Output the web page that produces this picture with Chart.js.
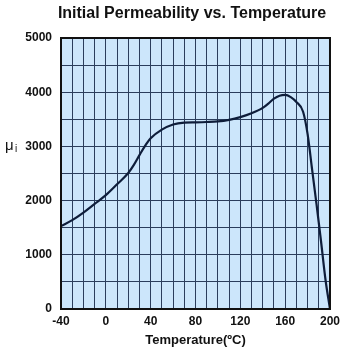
<!DOCTYPE html>
<html>
<head>
<meta charset="utf-8">
<script src="https://cdn.jsdelivr.net/npm/chart.js@4/dist/chart.umd.min.js"></script>
<style>
  html, body { margin:0; padding:0; background:#fff; }
  #wrap { width:345px; height:354px; }
</style>
</head>
<body>
<div id="wrap"><canvas id="chart" width="345" height="354"></canvas></div>
<script>
// temperature (C) and initial permeability
const TEMPS = [-40,-30,-20,-10,0,10,20,25,30,35,40,50,60,70,80,90,100,110,120,130,140,145,150,155,160,165,170,176,180,184,188,192,196,200];
const MU    = [1530,1640,1780,1940,2100,2300,2510,2660,2840,3010,3150,3310,3405,3440,3445,3450,3460,3490,3540,3610,3710,3790,3880,3935,3950,3910,3820,3640,3230,2580,1930,1250,540,0];

const TITLE = 'Initial Permeability vs. Temperature';
const X_TITLE = 'Temperature(\u00baC)';
const FONT = '"Liberation Sans", Arial, Helvetica, sans-serif';

const points = TEMPS.map((t,i)=>({x:t, y:MU[i]}));

// background, frame, title and the mu_i label
const decor = {
  id:'decor',
  beforeDraw(chart){
    const {ctx, chartArea:a} = chart;
    ctx.save();
    ctx.fillStyle = '#cce6fb';
    ctx.fillRect(a.left, a.top, a.right-a.left, a.bottom-a.top);
    ctx.restore();
  },
  afterDatasetsDraw(chart){
    const {ctx, chartArea:a} = chart;
    ctx.save();
    ctx.strokeStyle = '#111';
    ctx.lineWidth = 2;
    ctx.strokeRect(a.left, a.top, a.right-a.left, a.bottom-a.top);
    ctx.restore();
  },
  afterDraw(chart){
    const {ctx} = chart;
    const y3000 = chart.scales.y.getPixelForValue(3000);
    ctx.save();
    ctx.fillStyle = '#111';
    ctx.textBaseline = 'middle';
    ctx.textAlign = 'center';
    ctx.font = 'bold 16px ' + FONT;
    ctx.fillText(TITLE, 192, 14);
    ctx.textAlign = 'left';
    ctx.font = '15px ' + FONT;
    ctx.fillText('\u03bc', 5, y3000 - 1);
    ctx.font = '10px ' + FONT;
    ctx.fillText('i', 15, y3000 + 3);
    ctx.restore();
  }
};

new Chart(document.getElementById('chart'), {
  type:'line',
  data:{datasets:[{
    data: points,
    borderColor:'#0e1d3a',
    borderWidth:2.2,
    pointRadius:0,
    fill:false,
    cubicInterpolationMode:'monotone'
  }]},
  options:{
    responsive:false,
    animation:false,
    layout:{padding:{left:0, right:15, top:38, bottom:0}},
    plugins:{legend:{display:false}, tooltip:{enabled:false}, title:{display:false}},
    scales:{
      x:{
        type:'linear', min:-40, max:200,
        afterFit: s => { s.height = 45; },
        grid:{color:'#2a3d5c', lineWidth:1, drawTicks:false},
        border:{display:false},
        ticks:{
          stepSize:10, padding:5, color:'#111',
          font:{family:FONT, size:12, weight:'bold'},
          autoSkip:false, maxRotation:0,
          callback: v => (v % 40 === 0 ? v : '')
        },
        title:{display:true, text:X_TITLE, color:'#111',
          font:{family:FONT, size:13, weight:'bold'}, padding:{top:0, bottom:6}}
      },
      y:{
        min:0, max:5000,
        afterFit: s => { s.width = 61; },
        grid:{color:'#2a3d5c', lineWidth:1, drawTicks:false},
        border:{display:false},
        ticks:{
          stepSize:500, padding:9, color:'#111',
          font:{family:FONT, size:12, weight:'bold'},
          autoSkip:false,
          callback: v => (v % 1000 === 0 ? v : '')
        }
      }
    }
  },
  plugins:[decor]
});
</script>
</body>
</html>
